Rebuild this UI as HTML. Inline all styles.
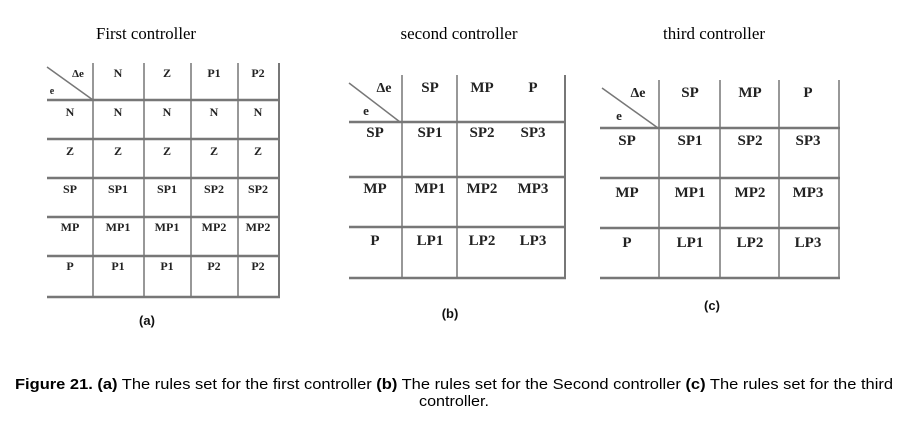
<!DOCTYPE html>
<html><head><meta charset="utf-8"><style>
html,body{margin:0;padding:0;background:#fff;}
svg{display:block;}
.s{font-family:"Liberation Serif",serif;font-weight:bold;fill:#222;text-anchor:middle;}
.t{font-family:"Liberation Serif",serif;fill:#000;text-anchor:middle;font-size:17px;}
.l{font-family:"Liberation Sans",sans-serif;font-weight:bold;fill:#111;text-anchor:middle;font-size:13px;}
.c{font-family:"Liberation Sans",sans-serif;fill:#000;font-size:15px;}
line{stroke:#777;}
</style></head><body>
<svg width="908" height="422" viewBox="0 0 908 422" xmlns="http://www.w3.org/2000/svg">
<text class="t" x="146" y="39" textLength="100" lengthAdjust="spacingAndGlyphs">First controller</text>
<text class="t" x="459" y="39" textLength="117" lengthAdjust="spacingAndGlyphs">second controller</text>
<text class="t" x="714" y="39" textLength="102" lengthAdjust="spacingAndGlyphs">third controller</text>

<g stroke-width="2.5">
<line x1="47" y1="100" x2="280" y2="100"/>
<line x1="47" y1="139" x2="280" y2="139"/>
<line x1="47" y1="178" x2="280" y2="178"/>
<line x1="47" y1="217" x2="280" y2="217"/>
<line x1="47" y1="256" x2="280" y2="256"/>
<line x1="47" y1="297" x2="280" y2="297"/>
</g>
<g stroke-width="1.5">
<line x1="93" y1="63" x2="93" y2="297"/>
<line x1="144" y1="63" x2="144" y2="297"/>
<line x1="191" y1="63" x2="191" y2="297"/>
<line x1="238" y1="63" x2="238" y2="297"/>
<line x1="279" y1="63" x2="279" y2="297" stroke-width="2"/>
<line x1="47" y1="67" x2="93" y2="100" stroke="#555"/>
</g>
<g class="s" font-size="12">
<text x="78" y="77" font-size="11">Δe</text><text x="52" y="94" font-size="10">e</text>
<text x="118" y="77">N</text><text x="167" y="77">Z</text><text x="214" y="77">P1</text><text x="258" y="77">P2</text>
<text x="70" y="116">N</text><text x="118" y="116">N</text><text x="167" y="116">N</text><text x="214" y="116">N</text><text x="258" y="116">N</text>
<text x="70" y="155">Z</text><text x="118" y="155">Z</text><text x="167" y="155">Z</text><text x="214" y="155">Z</text><text x="258" y="155">Z</text>
<text x="70" y="193">SP</text><text x="118" y="193">SP1</text><text x="167" y="193">SP1</text><text x="214" y="193">SP2</text><text x="258" y="193">SP2</text>
<text x="70" y="231">MP</text><text x="118" y="231">MP1</text><text x="167" y="231">MP1</text><text x="214" y="231">MP2</text><text x="258" y="231">MP2</text>
<text x="70" y="270">P</text><text x="118" y="270">P1</text><text x="167" y="270">P1</text><text x="214" y="270">P2</text><text x="258" y="270">P2</text>
</g>

<g stroke-width="2.5">
<line x1="349" y1="122" x2="566" y2="122"/>
<line x1="349" y1="177" x2="566" y2="177"/>
<line x1="349" y1="227" x2="566" y2="227"/>
<line x1="349" y1="278" x2="566" y2="278"/>
</g>
<g stroke-width="1.5">
<line x1="402" y1="75" x2="402" y2="278"/>
<line x1="457" y1="75" x2="457" y2="278"/>
<line x1="565" y1="75" x2="565" y2="278" stroke-width="2"/>
<line x1="349" y1="83" x2="400" y2="122" stroke="#555"/>
</g>
<g class="s" font-size="15">
<text x="384" y="92" font-size="14">Δe</text><text x="366" y="115" font-size="13">e</text>
<text x="430" y="92">SP</text><text x="482" y="92">MP</text><text x="533" y="92">P</text>
<text x="375" y="137">SP</text><text x="430" y="137">SP1</text><text x="482" y="137">SP2</text><text x="533" y="137">SP3</text>
<text x="375" y="193">MP</text><text x="430" y="193">MP1</text><text x="482" y="193">MP2</text><text x="533" y="193">MP3</text>
<text x="375" y="245">P</text><text x="430" y="245">LP1</text><text x="482" y="245">LP2</text><text x="533" y="245">LP3</text>
</g>

<g stroke-width="2.5">
<line x1="600" y1="128" x2="840" y2="128"/>
<line x1="600" y1="178" x2="840" y2="178"/>
<line x1="600" y1="228" x2="840" y2="228"/>
<line x1="600" y1="278" x2="840" y2="278"/>
</g>
<g stroke-width="1.5">
<line x1="659" y1="80" x2="659" y2="278" stroke="#ddd"/>
<line x1="720" y1="80" x2="720" y2="278"/>
<line x1="779" y1="80" x2="779" y2="278"/>
<line x1="839" y1="80" x2="839" y2="278"/>
<line x1="602" y1="88" x2="658" y2="128" stroke="#555"/>
</g>
<g class="s" font-size="15">
<text x="638" y="97" font-size="14">Δe</text><text x="619" y="120" font-size="13">e</text>
<text x="690" y="97">SP</text><text x="750" y="97">MP</text><text x="808" y="97">P</text>
<text x="627" y="145">SP</text><text x="690" y="145">SP1</text><text x="750" y="145">SP2</text><text x="808" y="145">SP3</text>
<text x="627" y="197">MP</text><text x="690" y="197">MP1</text><text x="750" y="197">MP2</text><text x="808" y="197">MP3</text>
<text x="627" y="247">P</text><text x="690" y="247">LP1</text><text x="750" y="247">LP2</text><text x="808" y="247">LP3</text>
</g>

<text class="l" x="147" y="325">(a)</text>
<text class="l" x="450" y="318">(b)</text>
<text class="l" x="712" y="310">(c)</text>

<text class="c" x="15" y="389" textLength="878" lengthAdjust="spacingAndGlyphs"><tspan font-weight="bold">Figure 21. (a)</tspan> The rules set for the first controller <tspan font-weight="bold">(b)</tspan> The rules set for the Second controller <tspan font-weight="bold">(c)</tspan> The rules set for the third</text>
<text class="c" x="454" y="406" text-anchor="middle" textLength="70" lengthAdjust="spacingAndGlyphs">controller.</text>
</svg>
</body></html>
